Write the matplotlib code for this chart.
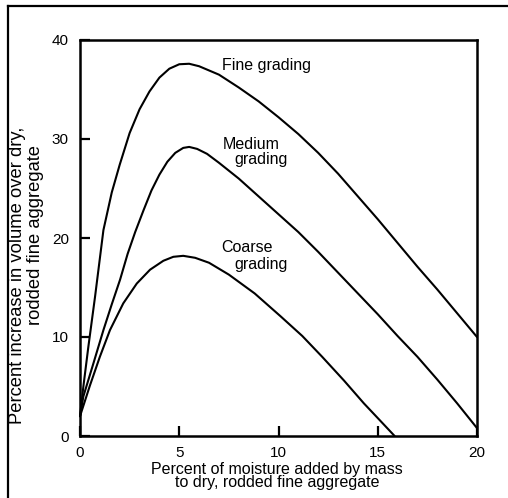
import matplotlib
matplotlib.use("Agg")
import matplotlib.pyplot as plt
from matplotlib.lines import Line2D

plt.rcParams['font.family'] = ['Liberation Sans', 'DejaVu Sans']

# Data
fine_x = [0, 0.17, 0.42, 0.76, 1.18, 1.6, 2.0, 2.5, 3.0, 3.5, 4.0, 4.5, 5.0, 5.5, 6.0, 7.0, 8.0,
          9.0, 10.0, 11.0, 12.0, 13.0, 14.0, 15.0, 16.0, 17.0, 18.0, 19.0, 20.0]
fine_y = [2, 5.0, 9.0, 14.1, 20.8, 24.6, 27.4, 30.6, 33.0, 34.8, 36.2, 37.1, 37.55, 37.6, 37.35,
          36.5, 35.2, 33.8, 32.2, 30.5, 28.6, 26.5, 24.2, 21.9, 19.5, 17.1, 14.8, 12.4, 10.0]

med_x = [0, 0.17, 0.67, 1.18, 1.6, 2.02, 2.4, 2.78, 3.2, 3.6, 4.0, 4.4, 4.8, 5.2, 5.5, 5.9, 6.4,
         7.0, 8.0, 9.0, 10.0, 11.0, 12.0, 13.0, 14.0, 15.0, 16.0, 17.0, 18.0, 19.0, 20.0]
med_y = [2, 4.0, 7.3, 10.7, 13.3, 15.8, 18.4, 20.6, 22.8, 24.8, 26.4, 27.7, 28.6, 29.1, 29.2, 29.0, 28.5,
         27.6, 26.0, 24.2, 22.4, 20.6, 18.6, 16.5, 14.4, 12.3, 10.1, 8.0, 5.7, 3.3, 0.8]

coarse_x = [0, 0.5, 1.0, 1.51, 2.18, 2.86, 3.53, 4.2, 4.7, 5.2, 5.8, 6.5, 7.5, 8.8, 10.1, 11.2,
            12.2, 13.3, 14.3, 15.1, 15.85]
coarse_y = [2, 5.1, 8.0, 10.7, 13.4, 15.4, 16.8, 17.7, 18.1, 18.2, 18.0, 17.5, 16.3, 14.4, 12.1, 10.1,
            8.0, 5.6, 3.3, 1.6, 0]

x_ticks = [0, 5, 10, 15, 20]
y_ticks = [0, 10, 20, 30, 40]

W, H = 508, 498
fig = plt.figure(figsize=(W / 100, H / 100), dpi=100)
ax = fig.add_axes([80 / W, 1 - 436 / H, (477 - 80) / W, (436 - 40) / H])

for xs, ys in [(fine_x, fine_y), (med_x, med_y), (coarse_x, coarse_y)]:
    ax.plot(xs, ys, color='black', lw=1.5, solid_joinstyle='round', solid_capstyle='round',
            clip_on=False)

ax.set_xlim(0, 20)
ax.set_ylim(0, 40)
ax.set_xticks(x_ticks)
ax.set_yticks(y_ticks)
ax.tick_params(direction='in', length=7, width=1.6, labelsize=11, color='black')
ax.tick_params(axis='x', pad=7)
ax.tick_params(axis='y', pad=8)
for s in ax.spines.values():
    s.set_linewidth(1.8)

txt = dict(fontsize=11.5, color='black')
ax.text(7.15, 37.4, 'Fine grading', ha='left', va='center', **txt)
ax.text(8.64, 29.4, 'Medium', ha='center', va='center', **txt)
ax.text(9.14, 27.9, 'grading', ha='center', va='center', **txt)
ax.text(8.39, 19.0, 'Coarse', ha='center', va='center', **txt)
ax.text(9.12, 17.3, 'grading', ha='center', va='center', **txt)

# axis labels (tightly spaced lines, as in the reference)
fig.text(277 / W, 1 - 476 / H, 'Percent of moisture added by mass\nto dry, rodded fine aggregate',
         ha='center', va='center', multialignment='center', linespacing=0.85, fontsize=11.5)
fig.text(18 / W, 1 - 275 / H, 'Percent increase in volume over dry,', ha='center', va='center',
         rotation=90, fontsize=13.2)
fig.text(36 / W, 1 - 235 / H, 'rodded fine aggregate', ha='center', va='center', rotation=90,
         fontsize=13.2)

# outer frame (left and top edges)
fig.add_artist(Line2D([8 / W, 8 / W], [0, 1 - 6 / H], color='black', lw=1.6, transform=fig.transFigure))
fig.add_artist(Line2D([8 / W, 1], [1 - 6 / H, 1 - 6 / H], color='black', lw=1.6, transform=fig.transFigure))

fig.savefig('out.png', dpi=100)
